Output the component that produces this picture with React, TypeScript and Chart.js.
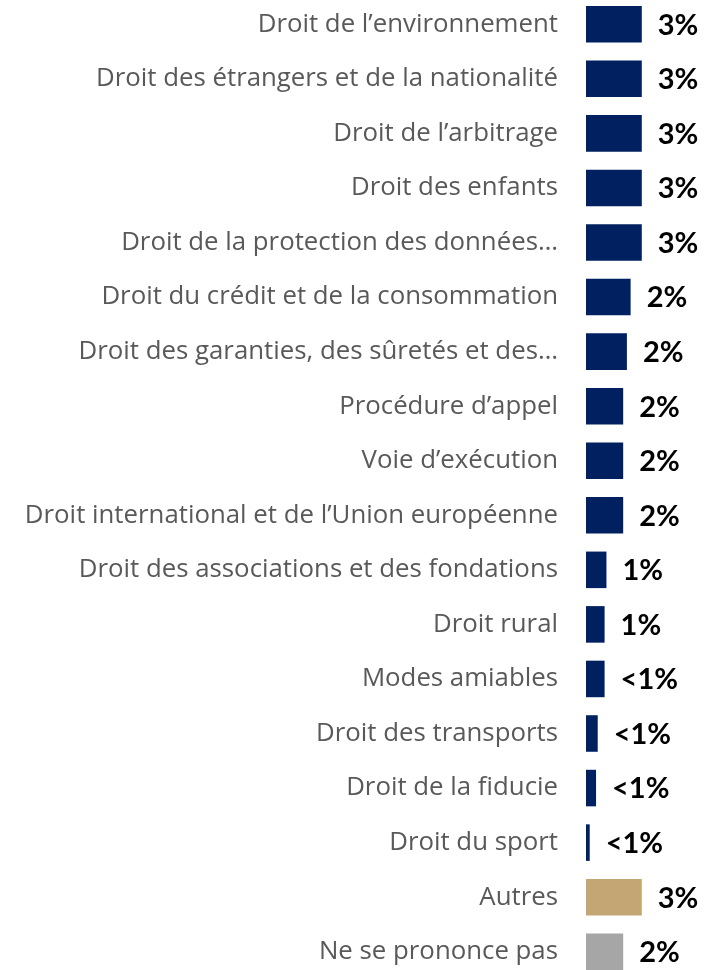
import React, { useEffect, useRef } from "react";
import { Chart, registerables } from "chart.js";

Chart.register(...registerables);

const categories = [
  "Droit de l’environnement",
  "Droit des étrangers et de la nationalité",
  "Droit de l’arbitrage",
  "Droit des enfants",
  "Droit de la protection des données…",
  "Droit du crédit et de la consommation",
  "Droit des garanties, des sûretés et des…",
  "Procédure d’appel",
  "Voie d’exécution",
  "Droit international et de l’Union européenne",
  "Droit des associations et des fondations",
  "Droit rural",
  "Modes amiables",
  "Droit des transports",
  "Droit de la fiducie",
  "Droit du sport",
  "Autres",
  "Ne se prononce pas",
];

const values = [3.0, 3.0, 3.0, 3.0, 3.0, 2.4, 2.2, 2.0, 2.0, 2.0, 1.1, 1.0, 1.0, 0.63, 0.54, 0.2, 3.0, 2.0];

const valueLabels = ["3%", "3%", "3%", "3%", "3%", "2%", "2%", "2%", "2%", "2%", "1%", "1%", "<1%", "<1%", "<1%", "<1%", "3%", "2%"];

const NAVY = "#002060";
const GOLD = "#C4A574";
const GREY = "#A6A6A6";
const barColors = categories.map((c) => (c === "Autres" ? GOLD : c === "Ne se prononce pas" ? GREY : NAVY));

const valueLabelPlugin = {
  id: "valueLabels",
  afterDatasetsDraw(chart: any) {
    const ctx = chart.ctx;
    const meta = chart.getDatasetMeta(0);
    ctx.save();
    ctx.font = "bold 29px Lato";
    ctx.fillStyle = "#000000";
    ctx.textAlign = "left";
    ctx.textBaseline = "middle";
    meta.data.forEach((bar: any, i: number) => {
      ctx.fillText(valueLabels[i], bar.x + 16, bar.y + 1);
    });
    ctx.restore();
  },
};

export default function App() {
  const ref = useRef<HTMLCanvasElement>(null);
  useEffect(() => {
    if (!ref.current) return;
    const chart = new Chart(ref.current, {
      type: "bar",
      data: {
        labels: categories,
        datasets: [
          {
            data: values,
            backgroundColor: barColors,
            borderWidth: 0,
            barPercentage: 0.67,
            categoryPercentage: 1,
          },
        ],
      },
      options: {
        indexAxis: "y",
        animation: false,
        responsive: false,
        layout: { padding: 0 },
        plugins: { legend: { display: false }, tooltip: { enabled: false } },
        scales: {
          x: {
            display: false,
            min: 0,
            max: 6.4,
          },
          y: {
            grid: { display: false, drawTicks: false },
            border: { display: false },
            ticks: {
              color: "#595959",
              font: { family: "Open Sans", size: 25.8 },
              padding: 28,
              autoSkip: false,
            },
            afterFit(scale: any) {
              scale.width = 586;
              scale.paddingTop = 0;
              scale.paddingBottom = 0;
            },
          },
        },
      },
      plugins: [valueLabelPlugin],
    });
    return () => chart.destroy();
  }, []);
  return (
    <canvas
      ref={ref}
      width={705}
      height={982}
      style={{ position: "absolute", left: 0, top: -3, width: 705, height: 982 }}
    />
  );
}
